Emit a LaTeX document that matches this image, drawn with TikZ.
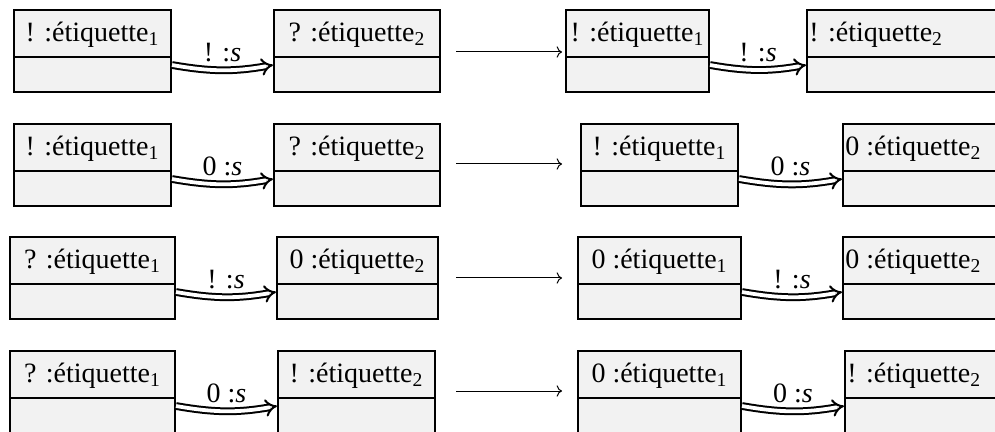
\documentclass[tikz,border=0pt]{standalone}
\usepackage{fontspec}
\setmainfont{Liberation Serif}
\usetikzlibrary{arrows.meta,fit,calc}
\tikzset{
  umlbox/.style={draw, line width=1pt, fill=black!5, inner sep=0pt},
  divider/.style={line width=1pt},
  boxtext/.style={anchor=base, inner sep=0pt, font=\fontsize{14}{17}\selectfont},
  msg/.style={double, double distance=1.9pt, line width=1pt, -{Implies[scale=1.25]}, bend right=10},
  msglabel/.style={midway, above, inner sep=1pt, yshift=2.5pt, font=\fontsize{14}{17}\selectfont},
  trans/.style={line width=0.5pt, -{To}},
}
% name, x1, x2, ytop, text
\newcommand\ubox[5]{%
  \node[umlbox, fit={(#2,#4) (#3,#4+82)}] (#1) {};
  \draw[divider] ($(#1.north west)+(0,48)$) -- ($(#1.north east)+(0,48)$);
  \node[boxtext] (#1t) at ($(#1.north)+(0,32.5)$) {#5};
}
\newcommand\uboxl[5]{%
  \node[umlbox, fit={(#2,#4) (#3,#4+82)}] (#1) {};
  \draw[divider] ($(#1.north west)+(0,48)$) -- ($(#1.north east)+(0,48)$);
  \node[boxtext, anchor=base west] (#1t) at ($(#1.north west)+(3,32.5)$) {#5};
}
\begin{document}
\begin{tikzpicture}[x=0.5pt, y=-0.5pt]
\useasboundingbox (0,0) rectangle (995,432);
\clip (0,0) rectangle (995,432);

% Row 1
\ubox{A1}{14}{171}{10}{! :étiquette\textsubscript{1}}
\ubox{B1}{274}{440}{10}{? :étiquette\textsubscript{2}}
\ubox{C1}{566}{709}{10}{! :étiquette\textsubscript{1}}
\uboxl{D1}{807}{1010}{10}{! :étiquette\textsubscript{2}}
\draw[msg] ($(A1.north east)+(0,56)$) to node[msglabel] (l1a) {! :\textit{s}} ($(B1.north west)+(0,56)$);
\draw[msg] ($(C1.north east)+(0,56)$) to node[msglabel] (l1b) {! :\textit{s}} ($(D1.north west)+(0,56)$);
\coordinate (s1) at (456,52);
\coordinate (e1) at (562,52);
\draw[trans] (s1) -- (e1);

% Row 2
\ubox{A2}{14}{171}{124}{! :étiquette\textsubscript{1}}
\ubox{B2}{274}{440}{124}{? :étiquette\textsubscript{2}}
\ubox{C2}{581}{738}{124}{! :étiquette\textsubscript{1}}
\uboxl{D2}{843}{1010}{124}{0 :étiquette\textsubscript{2}}
\draw[msg] ($(A2.north east)+(0,56)$) to node[msglabel] (l2a) {0 :\textit{s}} ($(B2.north west)+(0,56)$);
\draw[msg] ($(C2.north east)+(0,56)$) to node[msglabel] (l2b) {0 :\textit{s}} ($(D2.north west)+(0,56)$);
\coordinate (s2) at (456,164);
\coordinate (e2) at (562,164);
\draw[trans] (s2) -- (e2);

% Row 3
\ubox{A3}{10}{175}{237}{? :étiquette\textsubscript{1}}
\ubox{B3}{277}{438}{237}{0 :étiquette\textsubscript{2}}
\ubox{C3}{578}{741}{237}{0 :étiquette\textsubscript{1}}
\uboxl{D3}{843}{1010}{237}{0 :étiquette\textsubscript{2}}
\draw[msg] ($(A3.north east)+(0,56)$) to node[msglabel] (l3a) {! :\textit{s}} ($(B3.north west)+(0,56)$);
\draw[msg] ($(C3.north east)+(0,56)$) to node[msglabel] (l3b) {! :\textit{s}} ($(D3.north west)+(0,56)$);
\coordinate (s3) at (456,278);
\coordinate (e3) at (562,278);
\draw[trans] (s3) -- (e3);

% Row 4
\ubox{A4}{10}{175}{351}{? :étiquette\textsubscript{1}}
\ubox{B4}{278}{435}{351}{! :étiquette\textsubscript{2}}
\ubox{C4}{578}{741}{351}{0 :étiquette\textsubscript{1}}
\uboxl{D4}{845}{1010}{351}{! :étiquette\textsubscript{2}}
\draw[msg] ($(A4.north east)+(0,56)$) to node[msglabel] (l4a) {0 :\textit{s}} ($(B4.north west)+(0,56)$);
\draw[msg] ($(C4.north east)+(0,56)$) to node[msglabel] (l4b) {0 :\textit{s}} ($(D4.north west)+(0,56)$);
\coordinate (s4) at (456,391);
\coordinate (e4) at (562,391);
\draw[trans] (s4) -- (e4);
\end{tikzpicture}
\end{document}
